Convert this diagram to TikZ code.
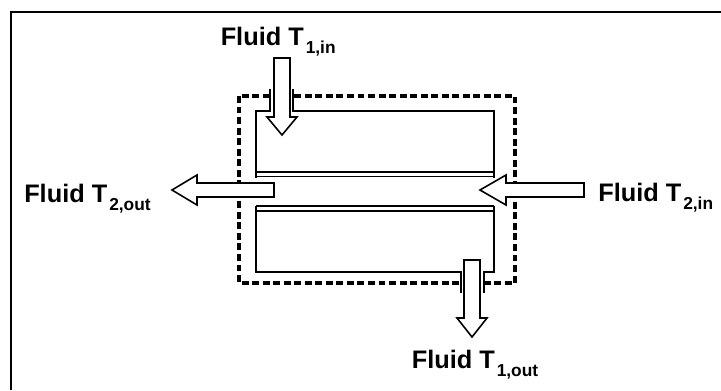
\documentclass[tikz,border=0pt]{standalone}
\usepackage{fontspec}
\setmainfont{Liberation Sans}
\usetikzlibrary{positioning}

\newcommand{\fluidT}[1]{\textbf{Fluid T\kern1.5pt\raisebox{-6pt}{\fontsize{13}{13}\selectfont #1}}}

\tikzset{
    wall/.style={draw=black, line width=1.2pt},
    envelope/.style={draw=black, line width=2.3pt, dash pattern=on 5.2pt off 2.7pt},
    flowarrow/.style={draw=black, fill=white, line width=1.2pt, miter limit=10},
    fluidlabel/.style={anchor=base west, inner sep=0pt, font=\fontsize{19}{19}\selectfont}
}

\begin{document}
\begin{tikzpicture}[x=0.75pt, y=-0.75pt]
    \useasboundingbox (0,0) rectangle (721,390);

    % outer frame
    \draw[line width=1.6pt] (11,390) -- (11,12) -- (721,12);

    % control volume
    \draw[envelope] (239,96) rectangle (515,283);

    % upper channel
    \draw[wall] (270,89) -- (270,111) -- (256,111) -- (256,178);
    \draw[wall] (293,89) -- (293,111) -- (494,111) -- (494,178);
    \draw[wall] (256,172) -- (494,172);
    \draw[wall] (256,176.5) -- (494,176.5);

    % lower channel
    \draw[wall] (256,206) -- (494,206);
    \draw[wall] (256,211) -- (494,211);
    \draw[wall] (256,206) -- (256,272) -- (461,272) -- (461,293);
    \draw[wall] (494,206) -- (494,272) -- (484,272) -- (484,293);

    % flow arrows
    \draw[flowarrow] (274,58) -- (290,58) -- (290,117) -- (297,117) -- (282,135) -- (267,117) -- (274,117) -- cycle;
    \draw[flowarrow] (464,260) -- (480,260) -- (480,318) -- (487,318) -- (472,337) -- (457,318) -- (464,318) -- cycle;
    \draw[flowarrow] (274,183) -- (197,183) -- (197,175) -- (172,190) -- (197,205) -- (197,197) -- (274,197) -- cycle;
    \draw[flowarrow] (584,183) -- (506,183) -- (506,175) -- (480,190) -- (506,205) -- (506,197) -- (584,197) -- cycle;

    % labels
    \node[fluidlabel] (t1_in) at (220.5,45) {\fluidT{1,in}};
    \node[fluidlabel] (t1_out) at (411.5,368) {\fluidT{1,out}};
    \node[fluidlabel] (t2_out) at (24,202) {\fluidT{2,out}};
    \node[fluidlabel] (t2_in) at (598,201) {\fluidT{2,in}};
\end{tikzpicture}
\end{document}
